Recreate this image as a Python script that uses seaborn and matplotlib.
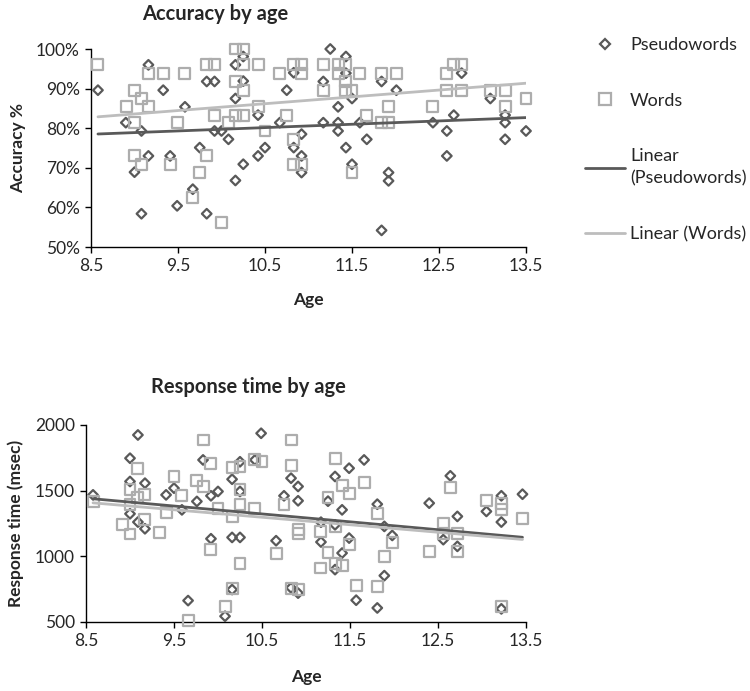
import numpy as np
import pandas as pd
import seaborn as sns
import matplotlib.pyplot as plt
from matplotlib.lines import Line2D
from matplotlib.ticker import FuncFormatter

# accuracy panel
acc_pseudo_age = [8.58, 9.16, 9.33, 8.90, 9.08, 9.00, 9.16, 9.08, 9.41, 9.49, 9.58, 9.67, 9.75, 9.83, 9.92,
                  9.83, 9.92, 10.00, 10.08, 10.16, 10.16, 10.16, 10.25, 10.25, 10.25, 10.42, 10.42, 10.50,
                  10.67, 10.75, 10.83, 10.83, 10.92, 10.92, 10.92, 11.17, 11.25, 11.43, 11.43, 11.50, 11.34,
                  11.17, 11.34, 11.34, 11.59, 11.43, 11.67, 11.50, 11.84, 12.01, 11.92, 11.92, 11.84, 12.43,
                  12.59, 12.59, 12.67, 12.76, 13.09, 13.26, 13.26, 13.26, 13.50]
acc_pseudo = [89.6, 96.0, 89.6, 81.4, 79.3, 68.9, 73.0, 58.4, 73.0, 60.4, 85.4, 64.6, 75.1, 91.8, 91.8,
              58.4, 79.3, 79.3, 77.2, 66.8, 87.5, 96.0, 98.1, 91.9, 70.9, 83.3, 73.0, 75.1,
              81.4, 89.6, 94.0, 75.1, 78.5, 73.0, 68.8, 91.8, 100.0, 98.1, 93.9, 87.5, 85.4,
              81.4, 81.4, 79.3, 81.4, 75.1, 77.2, 70.9, 91.8, 89.6, 68.8, 66.7, 54.2, 81.4,
              79.3, 73.0, 83.3, 93.9, 87.5, 83.3, 81.4, 77.2, 79.3]
acc_words_age = [8.58, 9.00, 9.08, 9.16, 8.91, 9.00, 9.16, 9.33, 9.00, 9.08, 9.41, 9.49, 9.58, 9.75, 9.67,
                 9.83, 9.83, 9.92, 9.92, 10.00, 10.08, 10.16, 10.25, 10.16, 10.25, 10.25, 10.16, 10.25,
                 10.42, 10.42, 10.50, 10.67, 10.75, 10.83, 10.92, 10.92, 10.83, 10.83, 10.92, 11.17, 11.17,
                 11.34, 11.43, 11.34, 11.43, 11.43, 11.50, 11.59, 11.67, 11.50, 11.84, 12.01, 11.92, 11.84,
                 11.92, 12.43, 12.59, 12.67, 12.76, 12.59, 12.76, 13.09, 13.26, 13.26, 13.50]
acc_words = [96.0, 89.6, 87.5, 85.4, 85.4, 81.4, 93.9, 93.9, 73.0, 70.9, 70.9, 81.4, 93.9, 68.8, 62.5,
             73.0, 96.0, 96.0, 83.3, 56.2, 81.4, 100.0, 100.0, 91.8, 96.0, 89.6, 83.3, 83.3,
             96.0, 85.4, 79.3, 93.9, 83.3, 96.0, 96.0, 93.9, 77.2, 70.9, 70.9, 96.0, 89.6,
             96.0, 96.0, 93.9, 91.8, 89.6, 89.6, 93.9, 83.3, 68.8, 93.9, 93.9, 85.4, 81.4,
             81.4, 85.4, 93.9, 96.0, 96.0, 89.6, 89.6, 89.6, 89.6, 85.4, 87.5]

# response time panel
rt_pseudo_age = [8.58, 9.09, 9.00, 9.00, 9.17, 9.00, 9.09, 9.17, 9.41, 9.50, 9.59, 9.66, 9.76, 9.83, 9.92,
                 10.00, 9.92, 10.08, 10.16, 10.16, 10.25, 10.25, 10.25, 10.16, 10.42, 10.49, 10.66, 10.75,
                 10.83, 10.91, 10.91, 10.83, 10.91, 11.17, 11.17, 11.25, 11.33, 11.49, 11.66, 11.41, 11.33,
                 11.33, 11.41, 11.49, 11.57, 11.81, 11.81, 11.89, 11.89, 11.98, 12.40, 12.56, 12.64, 12.72,
                 12.72, 13.05, 13.22, 13.22, 13.46, 13.22]
rt_pseudo = [1468, 1924, 1747, 1570, 1557, 1324, 1261, 1210, 1468, 1519, 1354, 663, 1418, 1734, 1461,
             1494, 1134, 544, 1587, 1144, 1144, 1720, 1494, 747, 1734, 1937, 1119, 1461,
             1595, 1532, 1423, 760, 720, 1109, 1260, 1420, 1608, 1671, 1734, 1354, 1240,
             899, 1025, 1139, 666, 1397, 607, 853, 1228, 1159, 1405, 1127, 1613, 1304,
             1076, 1342, 1461, 1261, 1473, 600]
rt_words_age = [8.58, 9.09, 9.00, 9.09, 9.17, 9.00, 8.92, 9.00, 9.17, 9.33, 9.50, 9.59, 9.41, 9.76, 9.83,
                9.83, 9.92, 10.00, 9.92, 10.08, 9.66, 10.16, 10.25, 10.16, 10.25, 10.25, 10.25, 10.16,
                10.42, 10.50, 10.42, 10.66, 10.75, 10.83, 10.83, 10.83, 10.91, 10.91, 10.91, 11.25, 11.33,
                11.41, 11.49, 11.66, 11.33, 11.17, 11.25, 11.17, 11.33, 11.41, 11.49, 11.57, 11.81, 11.81,
                11.89, 11.98, 12.40, 12.64, 12.56, 12.56, 12.72, 12.72, 13.05, 13.22, 13.22, 13.46, 13.22]
rt_words = [1418, 1671, 1506, 1448, 1468, 1392, 1240, 1170, 1278, 1185, 1608, 1461, 1334, 1575, 1886,
            1532, 1704, 1367, 1051, 615, 514, 1676, 1684, 1304, 1506, 1392, 942, 752,
            1739, 1721, 1367, 1025, 1392, 1886, 1689, 752, 747, 1177, 1205, 1448, 1747,
            1537, 1481, 1565, 1228, 1190, 1030, 911, 942, 929, 1088, 777, 1324, 772,
            1000, 1106, 1038, 1524, 1248, 1177, 1177, 1038, 1425, 1400, 1354, 1291, 620]

DARK = '#595959'
LIGHT = '#ADADAD'
LINE_LIGHT = '#BDBDBD'

sns.set_style('white')
plt.rcParams['font.family'] = ['Lato', 'DejaVu Sans']


def draw_panel(ax, p_age, p_val, w_age, w_val):
    sns.scatterplot(x=p_age, y=p_val, ax=ax, marker='D', s=24, facecolor='none',
                    edgecolor=DARK, linewidth=1.6, clip_on=False, zorder=3)
    sns.scatterplot(x=w_age, y=w_val, ax=ax, marker='s', s=62, facecolor='none',
                    edgecolor=LIGHT, linewidth=1.6, clip_on=False, zorder=3)
    sns.regplot(x=np.array(p_age), y=np.array(p_val), ax=ax, scatter=False, ci=None,
                line_kws=dict(color=DARK, lw=2, zorder=4))
    sns.regplot(x=np.array(w_age), y=np.array(w_val), ax=ax, scatter=False, ci=None,
                line_kws=dict(color=LINE_LIGHT, lw=2, zorder=4))
    ax.set_xlim(8.5, 13.5)
    ax.set_xticks(np.arange(8.5, 13.6, 1))
    ax.xaxis.set_major_formatter(FuncFormatter(lambda v, p: '{:.1f}'.format(v)))
    sns.despine(ax=ax)
    for s in ['left', 'bottom']:
        ax.spines[s].set_color('black')
        ax.spines[s].set_linewidth(1)
    ax.tick_params(axis='both', direction='out', length=4, width=1, color='black',
                   labelsize=12.5, left=True, bottom=True, pad=4)


fig = plt.figure(figsize=(7.5, 6.91), dpi=100)

ax1 = fig.add_axes([91 / 750, 1 - 247 / 691, 435 / 750, 198 / 691])
draw_panel(ax1, acc_pseudo_age, acc_pseudo, acc_words_age, acc_words)
ax1.set_ylim(50, 100)
ax1.set_yticks([50, 60, 70, 80, 90, 100])
ax1.yaxis.set_major_formatter(FuncFormatter(lambda v, p: '{:.0f}%'.format(v)))
ax1.set_xlabel('Age', fontsize=12.5, fontweight='bold')
ax1.set_ylabel('Accuracy %', fontsize=12.5, fontweight='bold')
ax1.xaxis.set_label_coords(0.5, -0.225)
ax1.yaxis.set_label_coords(-0.15, 0.5)

ax2 = fig.add_axes([86 / 750, 1 - 622 / 691, 440 / 750, 197 / 691])
draw_panel(ax2, rt_pseudo_age, rt_pseudo, rt_words_age, rt_words)
ax2.set_ylim(500, 2000)
ax2.set_yticks([500, 1000, 1500, 2000])
ax2.set_xlabel('Age', fontsize=12.5, fontweight='bold')
ax2.set_ylabel('Response time (msec)', fontsize=12.5, fontweight='bold')
ax2.xaxis.set_label_coords(0.5, -0.24)
ax2.yaxis.set_label_coords(-0.14, 0.5)

fig.text(215 / 750, 1 - 14 / 691, 'Accuracy by age', ha='center', va='center',
         fontsize=14.5, fontweight='bold')
fig.text(248 / 750, 1 - 387 / 691, 'Response time by age', ha='center', va='center',
         fontsize=14.5, fontweight='bold')

handles = [
    Line2D([], [], ls='none', marker='D', ms=5, mfc='none', mec=DARK, mew=1.6),
    Line2D([], [], ls='none', marker='s', ms=8, mfc='none', mec=LIGHT, mew=1.6),
    Line2D([], [], color=DARK, lw=2),
    Line2D([], [], color=LINE_LIGHT, lw=2),
]
labels = ['Pseudowords', 'Words', 'Linear\n(Pseudowords)', 'Linear (Words)']
leg = fig.legend(handles, labels, loc='upper left', bbox_to_anchor=(585 / 750, 1 - 37 / 691),
                 frameon=False, fontsize=13, labelspacing=2.2, handlelength=2.2, handletextpad=0.3,
                 borderaxespad=0, borderpad=0)
for t in leg.get_texts():
    t.set_linespacing(1.45)

plt.savefig('out.png', dpi=100)
